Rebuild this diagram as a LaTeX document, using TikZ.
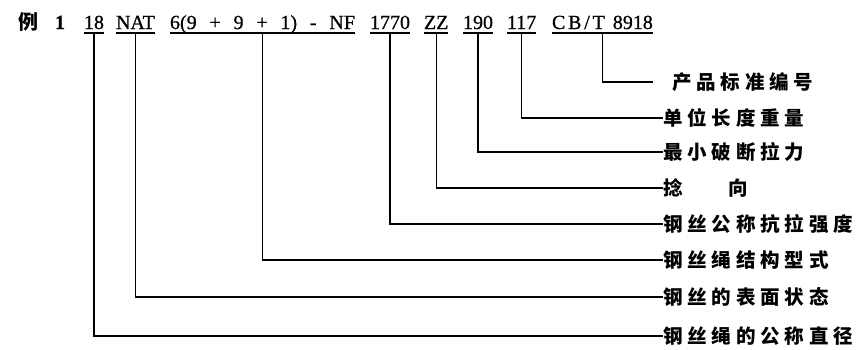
\documentclass[tikz,border=0pt]{standalone}
\usepackage{fontspec}
\setmainfont{Liberation Serif}
\newfontfamily\codefont[FakeBold=0.8]{Liberation Serif}
\newfontfamily\cjk[LetterSpace=25]{Noto Sans CJK SC}
\tikzset{
  code/.style={anchor=base west, inner sep=0pt, outer sep=0pt, text depth=4pt,
    font=\codefont\fontsize{20}{20}\selectfont},
  desc/.style={anchor=west, inner sep=0pt, outer sep=0pt,
    font=\cjk\bfseries\fontsize{19.5}{19.5}\selectfont},
  wire/.style={line width=1.1pt}
}
\begin{document}
\begin{tikzpicture}[x=1pt,y=-1pt]
    \useasboundingbox (0,0) rectangle (861,349);
    % Draw the heading
    \node[code] (head) at (18,29) {{\cjk\bfseries 例}\hspace{12pt}\textbf{1}};
    % Draw the code
    \node[code] (dia) at (84,29) {18};
    \node[code] (surf) at (116,29) {NAT};
    \node[code] (cons) at (170,29) {\makebox[185pt][s]{6(9 + 9 + 1) - NF}};
    \node[code] (stren) at (370,29) {1770};
    \node[code] (lay) at (424,29) {ZZ};
    \node[code] (brk) at (463,29) {190};
    \node[code] (wgt) at (507,29) {117};
    \node[code] (std) at (552,29) {{\addfontfeature{LetterSpace=14}CB/T}\hspace{8pt}8918};
    % Draw the underlines
    \draw[wire] (dia.south west) -- (dia.south east);
    \draw[wire] (surf.south west) -- (surf.south east);
    \draw[wire] (cons.south west) -- (cons.south east);
    \draw[wire] (stren.south west) -- (stren.south east);
    \draw[wire] (lay.south west) -- (lay.south east);
    \draw[wire] (brk.south west) -- (brk.south east);
    \draw[wire] (wgt.south west) -- (wgt.south east);
    \draw[wire] (std.south west) -- (std.south east);
    % Draw the labels
    \node[desc] (lstd) at (672,82) {产品标准编号};
    \node[desc] (lwgt) at (663,118) {单位长度重量};
    \node[desc] (lbrk) at (663,152) {最小破断拉力};
    \node[desc] (llay) at (663,188) {捻\hspace{46pt}向};
    \node[desc] (lstren) at (663,224) {钢丝公称抗拉强度};
    \node[desc] (lcons) at (663,260) {钢丝绳结构型式};
    \node[desc] (lsurf) at (663,297) {钢丝的表面状态};
    \node[desc] (ldia) at (663,336) {钢丝绳的公称直径};
    % Draw the leaders
    \draw[wire, shorten >=19pt] (std.south) |- (lstd.west);
    \draw[wire] (wgt.south) |- (lwgt.west);
    \draw[wire] (brk.south) |- (lbrk.west);
    \draw[wire] (lay.south) |- (llay.west);
    \draw[wire] (stren.south) |- (lstren.west);
    \draw[wire] (cons.south) |- (lcons.west);
    \draw[wire] (surf.south) |- (lsurf.west);
    \draw[wire] (dia.south) |- (ldia.west);
\end{tikzpicture}
\end{document}
